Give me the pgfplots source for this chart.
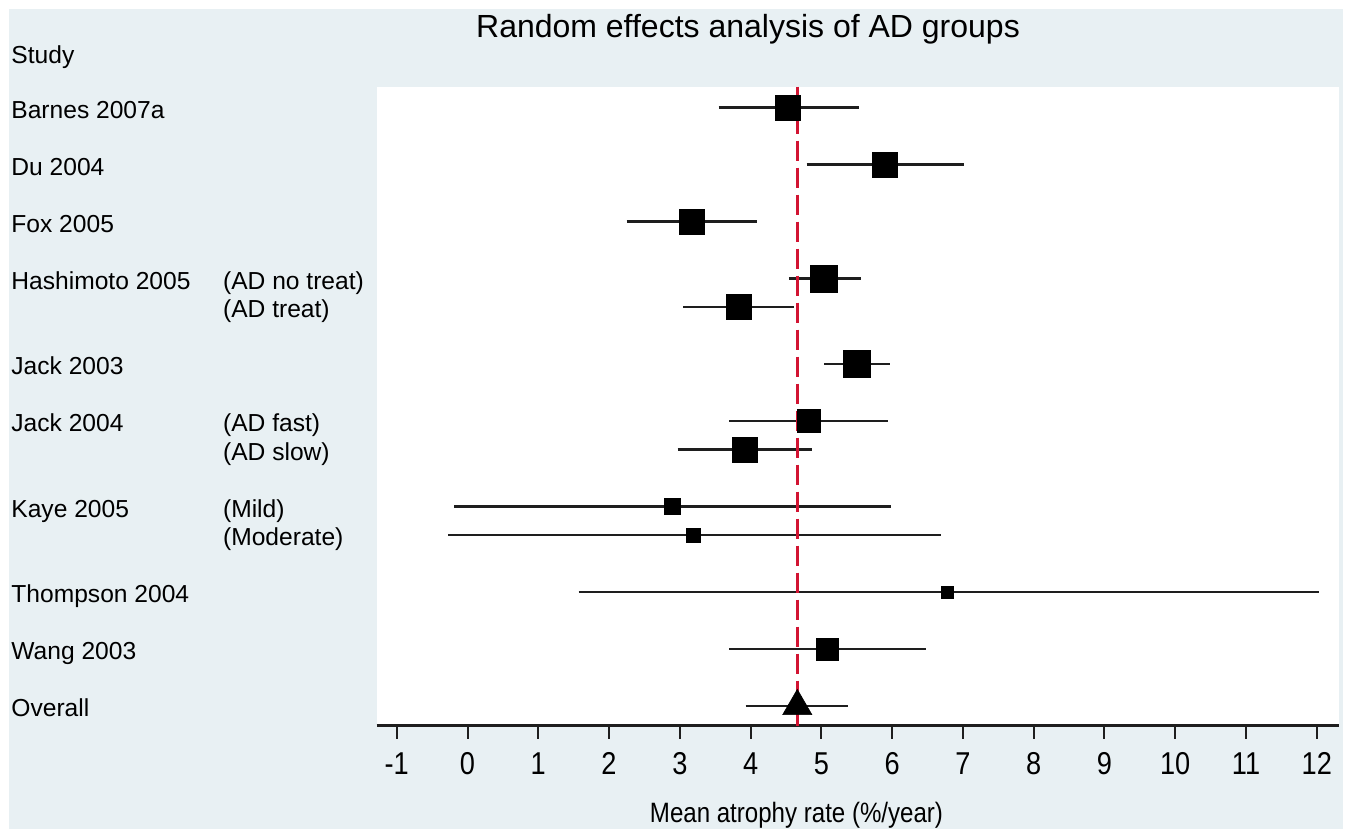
\documentclass[border=0pt]{standalone}
\usepackage{fontspec}
\setmainfont{Liberation Sans}
\newfontfamily\axisfont[FakeStretch=0.86]{Liberation Sans}
\usepackage{pgfplots}
\pgfplotsset{compat=1.18}
\definecolor{bg}{RGB}{232,240,243}
\definecolor{refred}{RGB}{210,20,50}
\definecolor{ink}{RGB}{30,30,30}
\begin{document}
\begin{tikzpicture}[x=1pt,y=1pt,
  lab/.style={anchor=base west, inner sep=0pt, xshift=-182.85pt, yshift=-5.2pt, font=\fontsize{12.3pt}{14pt}\selectfont},
  sub/.style={anchor=base west, inner sep=0pt, xshift=-77pt, yshift=-5.2pt, font=\fontsize{12.3pt}{14pt}\selectfont}]
\useasboundingbox (0,0) rectangle (675,415.5);
\fill[bg] (4.5,1) rectangle (671.5,411);
\begin{axis}[
  at={(188.35pt,52.65pt)}, anchor=south west,
  scale only axis, width=481.15pt, height=319.5pt,
  xmin=-1.283, xmax=12.314, ymin=-21.684, ymax=0.737,
  axis x line*=bottom, axis y line=none,
  axis background/.style={fill=white},
  xtick={-1,0,...,12}, ytick=\empty,
  tick align=outside, major tick length=6.5pt,
  x axis line style={line width=1.4pt, ink},
  xtick style={line width=1pt, ink},
  xticklabel style={font=\axisfont\fontsize{15.8pt}{18pt}\selectfont, anchor=base, yshift=-17.65pt, inner sep=0pt},
  /pgf/number format/assume math mode=true,
  clip=false,
  ci/.style={ink, line width=1.25pt, no marks},
  sq/.style={only marks, mark=square*, mark options={fill=black, draw=black, line width=0.3pt}},
]
% confidence intervals
\addplot[ci] coordinates {(3.55,0) (5.53,0)};
\addplot[ci] coordinates {(4.79,-2) (7.02,-2)};
\addplot[ci] coordinates {(2.25,-4) (4.09,-4)};
\addplot[ci] coordinates {(4.54,-6) (5.56,-6)};
\addplot[ci] coordinates {(3.05,-7) (4.61,-7)};
\addplot[ci] coordinates {(5.04,-9) (5.97,-9)};
\addplot[ci] coordinates {(3.70,-11) (5.94,-11)};
\addplot[ci] coordinates {(2.97,-12) (4.87,-12)};
\addplot[ci] coordinates {(-0.19,-14) (5.99,-14)};
\addplot[ci] coordinates {(-0.27,-15) (6.69,-15)};
\addplot[ci] coordinates {(1.57,-17) (12.03,-17)};
\addplot[ci] coordinates {(3.70,-19) (6.48,-19)};
\addplot[ci] coordinates {(3.93,-21) (5.37,-21)};
% overall estimate line
\addplot[refred, line width=1.4pt, dash pattern=on 10pt off 3.5pt, no marks] coordinates {(4.66,0.737) (4.66,-21.684)};
% point estimates
\addplot[sq, mark size=6.25pt] coordinates {(4.52,0)};
\addplot[sq, mark size=6.25pt] coordinates {(5.90,-2)};
\addplot[sq, mark size=6.25pt] coordinates {(3.17,-4)};
\addplot[sq, mark size=6.75pt] coordinates {(5.04,-6)};
\addplot[sq, mark size=6.25pt] coordinates {(3.84,-7)};
\addplot[sq, mark size=6.75pt] coordinates {(5.50,-9)};
\addplot[sq, mark size=5.75pt] coordinates {(4.82,-11)};
\addplot[sq, mark size=6.25pt] coordinates {(3.92,-12)};
\addplot[sq, mark size=4pt] coordinates {(2.89,-14)};
\addplot[sq, mark size=3.5pt] coordinates {(3.19,-15)};
\addplot[sq, mark size=3pt] coordinates {(6.78,-17)};
\addplot[sq, mark size=5.5pt] coordinates {(5.09,-19)};
\addplot[only marks, mark=triangle*, mark size=8.4pt, mark options={fill=black, draw=black, line width=0.3pt}] coordinates {(4.66,-21)};
% labels
\node[lab] at (axis cs:-1.283,0) {Barnes 2007a};
\node[lab] at (axis cs:-1.283,-2) {Du 2004};
\node[lab] at (axis cs:-1.283,-4) {Fox 2005};
\node[lab] at (axis cs:-1.283,-6) {Hashimoto 2005};
\node[sub] at (axis cs:-1.283,-6) {(AD no treat)};
\node[sub] at (axis cs:-1.283,-7) {(AD treat)};
\node[lab] at (axis cs:-1.283,-9) {Jack 2003};
\node[lab] at (axis cs:-1.283,-11) {Jack 2004};
\node[sub] at (axis cs:-1.283,-11) {(AD fast)};
\node[sub] at (axis cs:-1.283,-12) {(AD slow)};
\node[lab] at (axis cs:-1.283,-14) {Kaye 2005};
\node[sub] at (axis cs:-1.283,-14) {(Mild)};
\node[sub] at (axis cs:-1.283,-15) {(Moderate)};
\node[lab] at (axis cs:-1.283,-17) {Thompson 2004};
\node[lab] at (axis cs:-1.283,-19) {Wang 2003};
\node[lab] at (axis cs:-1.283,-21) {Overall};
\end{axis}
\node[anchor=base west, inner sep=0pt, font=\fontsize{12.3pt}{14pt}\selectfont] at (5.5,383.85) {Study};
\node[anchor=base, inner sep=0pt, font=\fontsize{16pt}{18pt}\selectfont] at (374,396.5) {Random effects analysis of AD groups};
\node[anchor=base, inner sep=0pt, font=\axisfont\fontsize{14pt}{16pt}\selectfont] at (398.25,4.5) {Mean atrophy rate (\%/year)};
\end{tikzpicture}
\end{document}
